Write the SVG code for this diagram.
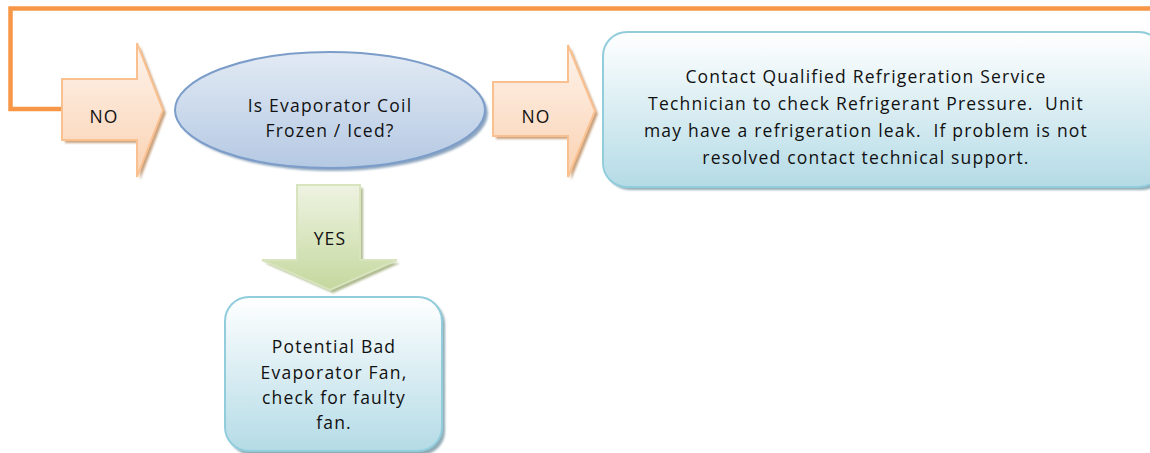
<svg xmlns="http://www.w3.org/2000/svg" width="1150" height="453" viewBox="0 0 1150 453">
<defs>
<linearGradient id="gOrange" x1="0" y1="0" x2="0" y2="1"><stop offset="0" stop-color="#FEF3EC"/><stop offset="1" stop-color="#FAD2B2"/></linearGradient>
<linearGradient id="gBlue" x1="0" y1="0" x2="0" y2="1"><stop offset="0" stop-color="#E2EAF4"/><stop offset="1" stop-color="#B5C9E3"/></linearGradient>
<linearGradient id="gGreen" x1="0" y1="0" x2="0" y2="1"><stop offset="0" stop-color="#EEF3E2"/><stop offset="1" stop-color="#C5D89E"/></linearGradient>
<linearGradient id="gAqua" x1="0" y1="0" x2="0" y2="1"><stop offset="0" stop-color="#FFFFFF"/><stop offset="1" stop-color="#B4DBE6"/></linearGradient>
<filter id="blur" x="-10%" y="-10%" width="120%" height="120%"><feGaussianBlur stdDeviation="1"/></filter>
</defs>
<style>
.lbl{font-family:"Open Sans","Liberation Sans",sans-serif;font-size:17.5px;fill:#111;text-anchor:middle;letter-spacing:1.2px;white-space:pre}
.arrowO{fill:url(#gOrange);stroke:#FAC08F;stroke-width:2}
.shO{fill:#C9A27E;filter:url(#blur)}
.shB{fill:#8EA6BF;filter:url(#blur)}
.shA{fill:#8FAAB5;filter:url(#blur)}
.shG{fill:#AEB98F;filter:url(#blur)}
.box{fill:url(#gAqua);stroke:#92CDDC;stroke-width:2}
</style>
<g id="connectors">
<polyline points="1152,8.5 10.5,8.5 10.5,109 62,109" fill="none" stroke="#F79646" stroke-width="4.5"/>
</g>
<g id="no-left">
<polygon class="shO" points="65,82 140,82 140,46 166,113 140,180 140,143 65,143"/>
<polygon class="arrowO" points="62,79 137,79 137,43 163,110 137,177 137,140 62,140"/>
<text class="lbl" x="104" y="123">NO</text>
</g>
<g id="decision">
<ellipse class="shB" cx="333" cy="113" rx="155" ry="58"/>
<ellipse cx="330" cy="110" rx="155" ry="58" fill="url(#gBlue)" stroke="#7C9DC9" stroke-width="2"/>
<text class="lbl" x="330" y="112">Is Evaporator Coil</text>
<text class="lbl" x="330" y="137">Frozen / Iced?</text>
</g>
<g id="no-right">
<polygon class="shO" points="496,85 571,85 571,48 598,114 571,180 571,139 496,139"/>
<polygon class="arrowO" points="493,82 568,82 568,45 595,111 568,177 568,136 493,136"/>
<text class="lbl" x="536" y="123">NO</text>
</g>
<g id="contact-box">
<rect class="shA" x="606" y="35" width="560" height="155" rx="24"/>
<rect class="box" x="603" y="32" width="560" height="155" rx="24"/>
<text class="lbl" x="866" y="83">Contact Qualified Refrigeration Service</text>
<text class="lbl" x="866" y="110">Technician to check Refrigerant Pressure.  Unit</text>
<text class="lbl" x="866" y="137">may have a refrigeration leak.  If problem is not</text>
<text class="lbl" x="866" y="164">resolved contact technical support.</text>
</g>
<g id="yes-arrow">
<polygon class="shG" points="300,188 363,188 363,263 400,263 333,293 265,263 300,263"/>
<polygon points="297,185 360,185 360,260 397,260 330,290 262,260 297,260" fill="url(#gGreen)" stroke="#D7E4BD" stroke-width="2"/>
<text class="lbl" x="330" y="245">YES</text>
</g>
<g id="fan-box">
<rect class="shA" x="228" y="300" width="217" height="155" rx="24"/>
<rect class="box" x="225" y="297" width="217" height="154" rx="24"/>
<text class="lbl" x="334" y="353">Potential Bad</text>
<text class="lbl" x="334" y="379">Evaporator Fan,</text>
<text class="lbl" x="334" y="404">check for faulty</text>
<text class="lbl" x="334" y="429">fan.</text>
</g>
</svg>
